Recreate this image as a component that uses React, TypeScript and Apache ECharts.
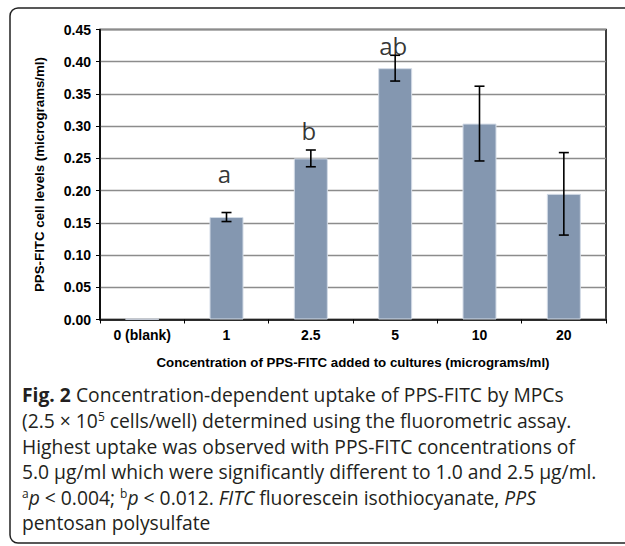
import React, { useEffect, useRef } from "react";
import * as echarts from "echarts";

const categories = ["0 (blank)", "1", "2.5", "5", "10", "20"];
const meanValues = [0.001, 0.159, 0.25, 0.39, 0.304, 0.195];
const errorValues = [0, 0.007, 0.013, 0.02, 0.058, 0.064];
const sigLabels = ["", "a", "b", "ab", "", ""];
const sigLabelAt = [0, 0.227, 0.293, 0.425, 0, 0];
const yTicks = { min: 0, max: 0.45, interval: 0.05 };

const captionLines = [
  "{b|Fig. 2} Concentration-dependent uptake of PPS-FITC by MPCs",
  "(2.5 × 10{sup|5} cells/well) determined using the fluorometric assay.",
  "Highest uptake was observed with PPS-FITC concentrations of",
  "5.0 µg/ml which were significantly different to 1.0 and 2.5 µg/ml.",
  "{sup|a}{i|p} < 0.004; {sup|b}{i|p} < 0.012. {i|FITC} fluorescein isothiocyanate, {i|PPS}",
  "pentosan polysulfate",
];

const AXIS_FONT = 'Arial, "Liberation Sans", sans-serif';
const CAP_FONT = '"Open Sans", "Noto Sans", sans-serif';

export default function App() {
  const ref = useRef<HTMLDivElement>(null);
  useEffect(() => {
    if (!ref.current) return;
    const chart = echarts.init(ref.current, null, { renderer: "svg" });
    const capStyle = { fontFamily: CAP_FONT, fontSize: 19.3, fill: "#231f20", lineHeight: 25.6 };
    chart.setOption({
      animation: false,
      backgroundColor: "#ffffff",
      grid: {
        left: 100,
        right: 19,
        top: 29.5,
        bottom: 226.5,
        show: true,
        borderColor: "#000",
        borderWidth: 1.5,
        backgroundColor: "transparent",
      },
      xAxis: {
        type: "category",
        data: categories,
        boundaryGap: true,
        name: "Concentration of PPS-FITC added to cultures (micrograms/ml)",
        nameLocation: "middle",
        nameGap: 36,
        nameTextStyle: { fontFamily: AXIS_FONT, fontWeight: "bold", fontSize: 13.3, color: "#000" },
        axisLine: { lineStyle: { color: "#000", width: 1.5 } },
        axisTick: { show: true, alignWithLabel: false, length: 4, lineStyle: { color: "#000", width: 1 } },
        axisLabel: { fontFamily: AXIS_FONT, fontWeight: "bold", fontSize: 14, color: "#000", margin: 8 },
        splitLine: { show: false },
      },
      yAxis: {
        type: "value",
        min: yTicks.min,
        max: yTicks.max,
        interval: yTicks.interval,
        name: "PPS-FITC cell levels (micrograms/ml)",
        nameLocation: "middle",
        nameGap: 54,
        nameTextStyle: { fontFamily: AXIS_FONT, fontWeight: "bold", fontSize: 13.3, color: "#000" },
        axisLine: { show: true, lineStyle: { color: "#000", width: 1.5 } },
        axisTick: { show: true, length: 4, lineStyle: { color: "#000", width: 1 } },
        axisLabel: {
          fontFamily: AXIS_FONT,
          fontWeight: "bold",
          fontSize: 14,
          color: "#000",
          margin: 9,
          formatter: (v: number) => v.toFixed(2),
        },
        splitLine: { show: true, lineStyle: { color: "#8c8c8c", width: 1.3 } },
      },
      series: [
        {
          type: "bar",
          data: meanValues,
          barWidth: 34,
          itemStyle: { color: "#8497b0", borderColor: "#d3dbe6", borderWidth: 1 },
          z: 2,
        },
        {
          type: "custom",
          data: categories.map((_, i) => [i, meanValues[i], errorValues[i]]),
          z: 5,
          renderItem: (params: any, api: any) => {
            const idx = api.value(0);
            const m = api.value(1);
            const e = api.value(2);
            if (!e) return { type: "group", children: [] };
            const top = api.coord([idx, m + e]);
            const bot = api.coord([idx, m - e]);
            const hw = 5;
            const st = { stroke: "#000", lineWidth: 1.6 };
            return {
              type: "group",
              children: [
                { type: "line", shape: { x1: top[0], y1: top[1], x2: bot[0], y2: bot[1] }, style: st },
                { type: "line", shape: { x1: top[0] - hw, y1: top[1], x2: top[0] + hw, y2: top[1] }, style: st },
                { type: "line", shape: { x1: bot[0] - hw, y1: bot[1], x2: bot[0] + hw, y2: bot[1] }, style: st },
              ],
            };
          },
        },
        {
          type: "scatter",
          symbolSize: 0,
          z: 6,
          data: categories
            .map((c, i) => ({ value: [i, sigLabelAt[i]], name: sigLabels[i] }))
            .filter((d) => d.name),
          label: {
            show: true,
            position: "inside",
            offset: [-2, 0],
            formatter: (p: any) => p.name,
            fontFamily: CAP_FONT,
            fontSize: 24,
            color: "#000",
          },
        },
      ],
      graphic: [
        {
          type: "rect",
          shape: { x: 10, y: 8, width: 700, height: 535, r: 8 },
          style: { fill: "none", stroke: "#222", lineWidth: 1.5 },
          silent: true,
        },
        {
          type: "text",
          x: 22,
          y: 382,
          style: {
            text: captionLines.join("\n"),
            ...capStyle,
            rich: {
              b: { ...capStyle, fontWeight: "bold" },
              i: { ...capStyle, fontStyle: "italic" },
              sup: {
                fontFamily: CAP_FONT,
                fill: "#231f20",
                fontSize: 12,
                lineHeight: 12,
                verticalAlign: "top",
                padding: [3, 0, 0, 0],
              },
            },
          },
        },
      ],
    });
    return () => chart.dispose();
  }, []);
  return (
    <div
      ref={ref}
      style={{ position: "fixed", left: 0, top: 0, width: 625, height: 546, background: "#fff" }}
    />
  );
}
